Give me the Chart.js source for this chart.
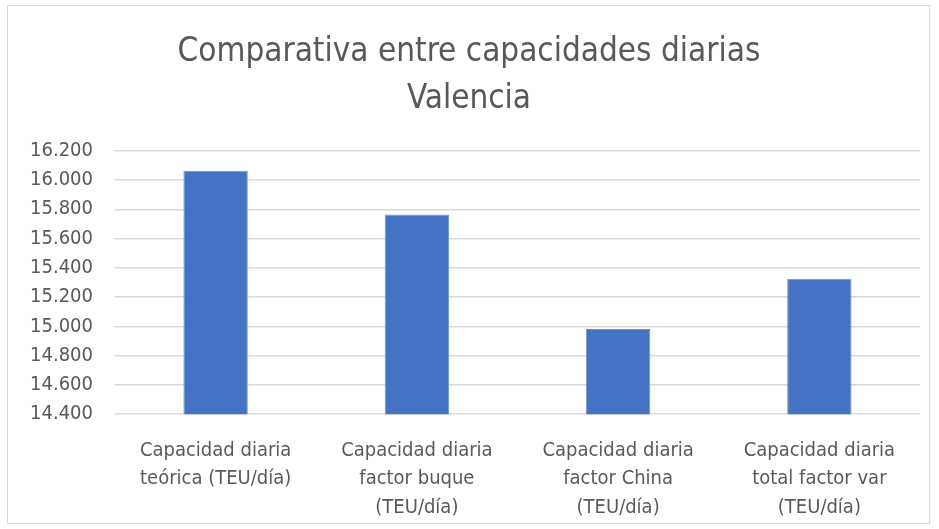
<!DOCTYPE html>
<html>
<head>
<meta charset="utf-8">
<script src="https://cdn.jsdelivr.net/npm/chart.js@4"></script>
<style>
  body { margin: 0; background: #fff; }
  #wrap { position: absolute; left: 7px; top: 5px; width: 923px; height: 519px; border: 1px solid #d9d9d9; box-sizing: border-box; }
</style>
</head>
<body>
<div id="wrap"><canvas id="chart"></canvas></div>
<script>
const categories = [
    ["Capacidad diaria", "teórica (TEU/día)"],
    ["Capacidad diaria", "factor buque", "(TEU/día)"],
    ["Capacidad diaria", "factor China", "(TEU/día)"],
    ["Capacidad diaria", "total factor var", "(TEU/día)"]
];
const capacidad = [16063, 15764, 14982, 15325];
const titleLines = ["Comparativa entre capacidades diarias", "Valencia"];
const yMin = 14400;
const yMax = 16200;
const yStep = 200;

const fontFam = "'Liberation Sans Narrow', 'DejaVu Sans Condensed', 'Liberation Sans', sans-serif";
const grey = "#595959";

// thousands with a dot, like the spanish excel
const fmt = (v) => String(v).replace(/\B(?=(\d{3})+(?!\d))/g, ".");

const ctx = document.getElementById("chart").getContext("2d");
new Chart(ctx, {
    type: "bar",
    data: {
        labels: categories,
        datasets: [{
            label: "Capacidad",
            data: capacidad,
            backgroundColor: "#4472c4",
            borderColor: "#6f94d6",
            borderWidth: 1,
            categoryPercentage: 1,
            barPercentage: 0.32
        }]
    },
    options: {
        responsive: true,
        maintainAspectRatio: false,
        animation: false,
        layout: { padding: { left: 10, right: 9, top: 11, bottom: -13 } },
        plugins: {
            legend: { display: false },
            tooltip: { enabled: false },
            title: {
                display: true,
                text: titleLines,
                color: grey,
                font: { family: fontFam, size: 33, weight: "normal", lineHeight: 1.42 },
                padding: { top: 12, bottom: 28 }
            }
        },
        scales: {
            x: {
                grid: { display: false },
                border: { display: false },
                ticks: {
                    color: grey,
                    font: { family: fontFam, size: 20, lineHeight: 1.43 },
                    maxRotation: 0,
                    autoSkip: false,
                    padding: 14
                }
            },
            y: {
                min: yMin,
                max: yMax,
                grid: { color: "#d9d9d9", lineWidth: 1.5, drawTicks: false },
                border: { display: false },
                afterFit: (axis) => { axis.width = 97; },
                ticks: {
                    stepSize: yStep,
                    color: grey,
                    padding: 22,
                    font: { family: fontFam, size: 20 },
                    callback: (v) => fmt(v)
                }
            }
        }
    }
});
</script>
</body>
</html>
